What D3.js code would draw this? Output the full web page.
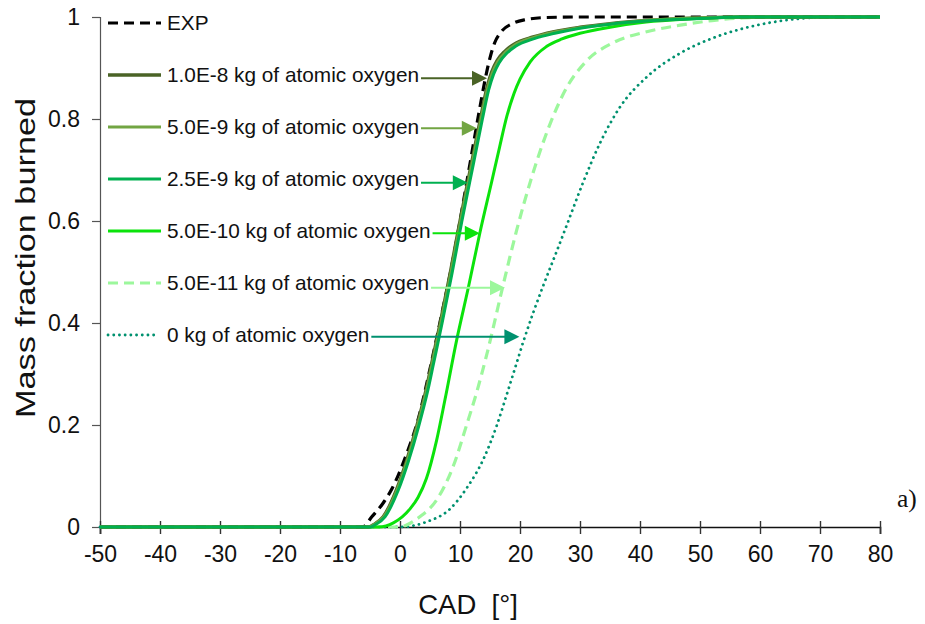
<!DOCTYPE html>
<html>
<head>
<meta charset="utf-8">
<script src="https://cdn.jsdelivr.net/npm/d3@7"></script>
<style>
  body { margin: 0; background: #fff; }
  svg { display: block; font-family: "Liberation Sans", Arial, sans-serif; }
</style>
</head>
<body>
<svg id="chart" width="925" height="624"></svg>
<script>
// Mass fraction burned vs crank angle, [CAD, fraction] pairs
const expData = [[-50,0],[-6.2,0],[-4.7,0.02],[-2.8,0.047],[-1.3,0.076],[1,0.14],[3,0.21],[5,0.31],[7,0.42],[8.6,0.51],[9.4,0.56],[10.6,0.64],[12,0.735],[13.2,0.815],[14.2,0.878],[15,0.92],[15.8,0.95],[16.8,0.97],[18.9,0.988],[21,0.995],[24.4,0.999],[30,1],[80,1]];
const o1e8Data = [[-50,0],[-5.2,0],[-4.5,0.004],[-2.8,0.02],[-0.6,0.073],[1.1,0.13],[2.8,0.198],[4.4,0.272],[5.3,0.322],[6.7,0.4],[8.4,0.5],[10,0.6],[12,0.718],[13.4,0.8],[14.5,0.862],[15.3,0.893],[16.2,0.915],[17.5,0.933],[18.9,0.946],[22.2,0.961],[25.5,0.971],[30,0.98],[35,0.987],[41,0.993],[50,0.998],[57,1],[80,1]];
const o5e9Data = [[-50,0],[-5.1,0],[-4.4,0.004],[-2.7,0.02],[-0.5,0.072],[1.2,0.129],[2.9,0.197],[4.5,0.271],[5.4,0.321],[6.8,0.399],[8.5,0.499],[10.1,0.599],[12.1,0.716],[13.5,0.798],[14.6,0.859],[15.4,0.89],[16.3,0.912],[17.6,0.931],[19,0.944],[22.3,0.96],[25.6,0.97],[30,0.979],[35,0.986],[41,0.993],[50,0.998],[57,1],[80,1]];
const o25e9Data = [[-50,0],[-4.9,0],[-4.2,0.004],[-2.5,0.02],[-0.3,0.072],[1.4,0.129],[3.1,0.197],[4.7,0.271],[5.6,0.321],[7,0.399],[8.7,0.499],[10.3,0.599],[12.3,0.716],[13.7,0.798],[14.8,0.858],[15.6,0.888],[16.5,0.91],[17.8,0.929],[19.2,0.942],[22.5,0.958],[25.8,0.968],[30,0.978],[35,0.986],[41,0.992],[50,0.997],[57,1],[80,1]];
const o5e10Data = [[-50,0],[-3.6,0],[-1.1,0.008],[1.7,0.036],[3,0.058],[4.4,0.095],[6.1,0.17],[7.5,0.25],[9.45,0.367],[11.4,0.47],[13.3,0.576],[15.3,0.678],[16.6,0.745],[17.8,0.805],[19,0.85],[20,0.878],[21.7,0.912],[24.4,0.942],[27,0.957],[30,0.968],[35,0.98],[41,0.99],[48,0.996],[57,1],[80,1]];
const o5e11Data = [[-50,0],[0,0],[1.1,0.004],[3.3,0.02],[6.1,0.053],[8.9,0.12],[11.1,0.2],[12.8,0.265],[14.5,0.34],[17.2,0.475],[19.4,0.58],[21.8,0.68],[25,0.79],[27.8,0.862],[31.1,0.914],[35.6,0.95],[41.1,0.971],[46.7,0.984],[52,0.993],[57,0.998],[65,1],[80,1]];
const o0Data = [[-50,0],[0,0],[4.4,0.01],[8.3,0.035],[11.1,0.076],[13.9,0.133],[16.1,0.198],[17.8,0.26],[19.4,0.32],[20.6,0.365],[22.2,0.42],[23.9,0.474],[26.1,0.54],[27.8,0.592],[30.6,0.678],[33.3,0.752],[36.7,0.824],[41.1,0.882],[46.7,0.929],[52.2,0.959],[56.7,0.976],[62.2,0.99],[67.8,0.998],[72,1],[80,1]];

const seriesLabels = ["EXP", "1.0E-8 kg of atomic oxygen", "5.0E-9 kg of atomic oxygen", "2.5E-9 kg of atomic oxygen", "5.0E-10 kg of atomic oxygen", "5.0E-11 kg of atomic oxygen", "0 kg of atomic oxygen"];
const seriesData = [expData, o1e8Data, o5e9Data, o25e9Data, o5e10Data, o5e11Data, o0Data];

// arrow annotations: the fraction at which each arrow points and the CAD of its tip
const arrowY = [null, 0.88, 0.782, 0.675, 0.576, 0.469, 0.373];
const arrowTipX = [null, 14.5, 12.8, 11.3, 13.3, 17.5, 19.9];

const xTicks = [-50,-40,-30,-20,-10,0,10,20,30,40,50,60,70,80];
const xTickLabels = ["-50","-40","-30","-20","-10","0","10","20","30","40","50","60","70","80"];
const yTicks = [0,0.2,0.4,0.6,0.8,1];
const yTickLabels = ["0","0.2","0.4","0.6","0.8","1"];

// styles
const colors = ["#000000", "#4a6326", "#72a543", "#00b050", "#0be30b", "#9cf79c", "#00916f"];
const dashes = ["10,6", null, null, null, null, "10,6", "0.1,5.6"];
const widths = [3.2, 3.4, 3.2, 3, 3, 3.2, 2.8];

const svg = d3.select("#chart");
const plotLeft = 100, plotRight = 880, plotTop = 17, plotBottom = 527;

const x = d3.scaleLinear().domain([-50, 80]).range([plotLeft, plotRight]);
const y = d3.scaleLinear().domain([0, 1]).range([plotBottom, plotTop]);

// y axis
const yAxis = svg.append("g")
  .attr("transform", `translate(${plotLeft},0)`)
  .call(d3.axisLeft(y).tickValues(yTicks).tickSize(8).tickPadding(12)
    .tickFormat((d, i) => yTickLabels[i]));
yAxis.select(".domain").attr("stroke", "#555").attr("stroke-width", 1.2);
yAxis.selectAll(".tick line").attr("stroke", "#555").attr("stroke-width", 1.2);
yAxis.selectAll(".tick text").attr("font-size", 23).attr("fill", "#111")
  .attr("font-family", "'Liberation Sans', Arial, sans-serif");

// x axis with ticks crossing the line
const xAxis = svg.append("g")
  .attr("transform", `translate(0,${plotBottom})`)
  .call(d3.axisBottom(x).tickValues(xTicks).tickSize(7).tickPadding(12)
    .tickFormat((d, i) => xTickLabels[i]));
xAxis.select(".domain").attr("stroke", "#111").attr("stroke-width", 1.6);
xAxis.selectAll(".tick line").attr("y1", -6).attr("stroke", "#333").attr("stroke-width", 1.4);
xAxis.selectAll(".tick text").attr("font-size", 23).attr("fill", "#111")
  .attr("font-family", "'Liberation Sans', Arial, sans-serif");

// axis titles
svg.append("text")
  .attr("transform", "translate(35,258) rotate(-90) scale(1.27,1)")
  .attr("text-anchor", "middle")
  .attr("font-size", 27).attr("fill", "#111")
  .text("Mass fraction burned");
svg.append("text")
  .attr("x", 468).attr("y", 614)
  .attr("text-anchor", "middle")
  .attr("font-size", 27.5).attr("fill", "#111")
  .style("white-space", "pre")
  .text("CAD  [°]");
svg.append("text")
  .attr("x", 897).attr("y", 507)
  .attr("font-family", "'Liberation Serif', 'Times New Roman', serif")
  .attr("font-size", 25.5).attr("fill", "#111")
  .text("a)");

// curves
const line = d3.line().x(d => x(d[0])).y(d => y(d[1])).curve(d3.curveMonotoneX);
const drawOrder = [6, 5, 4, 0, 1, 2, 3];
drawOrder.forEach(i => {
  svg.append("path")
    .datum(seriesData[i])
    .attr("fill", "none")
    .attr("stroke", colors[i])
    .attr("stroke-width", widths[i])
    .attr("stroke-dasharray", dashes[i])
    .attr("stroke-linecap", i === 6 ? "round" : "butt")
    .attr("d", line);
});

// legend with arrows to the curves
const legendX = 108, legendLen = 53, legendTop = 23, legendStep = 52;
seriesLabels.forEach((label, i) => {
  const ly = legendTop + i * legendStep;
  svg.append("line")
    .attr("x1", legendX).attr("x2", legendX + (i === 6 ? 49 : legendLen))
    .attr("y1", ly).attr("y2", ly)
    .attr("stroke", colors[i]).attr("stroke-width", widths[i])
    .attr("stroke-dasharray", dashes[i])
    .attr("stroke-linecap", i === 6 ? "round" : "butt");
  const t = svg.append("text")
    .attr("x", legendX + 59).attr("y", ly + 7)
    .attr("font-size", 20.8).attr("fill", "#111")
    .text(label);
  if (arrowY[i] !== null) {
    const x0 = legendX + 59 + t.node().getComputedTextLength() + 2;
    const ay = y(arrowY[i]);
    const tip = x(arrowTipX[i]);
    svg.append("line")
      .attr("x1", x0).attr("x2", tip - 12)
      .attr("y1", ay).attr("y2", ay)
      .attr("stroke", colors[i]).attr("stroke-width", 2);
    svg.append("path")
      .attr("d", `M${tip},${ay} L${tip - 15},${ay - 7.5} L${tip - 15},${ay + 7.5} Z`)
      .attr("fill", colors[i]);
  }
});
</script>
</body>
</html>
